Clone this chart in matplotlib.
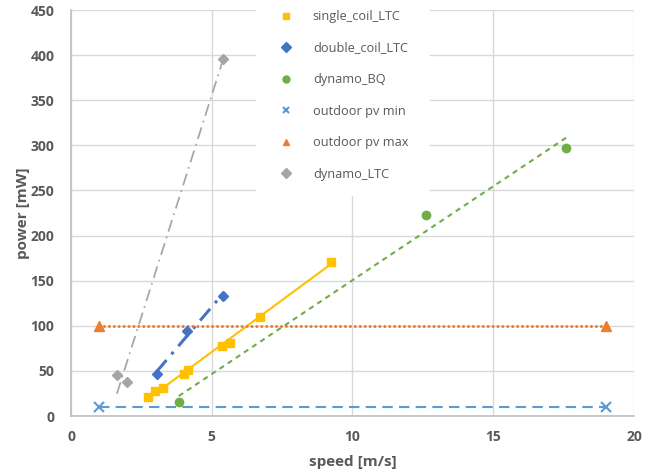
import numpy as np
import matplotlib
matplotlib.use("Agg")
import matplotlib.pyplot as plt
from matplotlib.patches import Rectangle

# data
single_x = [2.73, 2.98, 3.26, 4.0, 4.15, 5.35, 5.64, 6.7, 9.22]
single_y = [21, 27.6, 31, 46, 51, 78, 81, 110, 171]
double_x = [3.04, 4.11, 5.4]
double_y = [46, 94, 133]
bq_x = [3.83, 12.6, 17.6]
bq_y = [15.5, 223, 297]
pvmin_x = [1, 19]
pvmin_y = [10, 10]
pvmax_x = [1, 19]
pvmax_y = [100, 100]
ltc_x = [1.63, 1.99, 5.39]
ltc_y = [45, 37.5, 396]

labels = ["single_coil_LTC", "double_coil_LTC", "dynamo_BQ",
          "outdoor pv min", "outdoor pv max", "dynamo_LTC"]
xticks = [0, 5, 10, 15, 20]
yticks = [0, 50, 100, 150, 200, 250, 300, 350, 400, 450]

C_Y = "#FFC000"; C_B = "#4472C4"; C_G = "#70AD47"
C_LB = "#5B9BD5"; C_O = "#ED7D31"; C_GR = "#A5A5A5"
TXT = "#595959"; GRID = "#D9D9D9"

plt.rcParams['font.family'] = ['Open Sans', 'DejaVu Sans']

W, H = 662, 476
fig = plt.figure(figsize=(6.62, 4.76), dpi=100)
ax = fig.add_axes([71/W, 1-416/H, (634-71)/W, (416-10)/H])

def trend(x, y):
    x = np.asarray(x, float); y = np.asarray(y, float)
    k, b = np.polyfit(x, y, 1)
    xx = np.array([x.min(), x.max()])
    return xx, k*xx + b

# trendlines / series lines
xx, yy = trend(single_x, single_y)
ax.plot(xx, yy, color=C_Y, lw=1.5, solid_capstyle='round', zorder=2)
xx, yy = trend(double_x, double_y)
ax.plot(xx, yy, color=C_B, lw=2.2, dashes=(5, 2.5, 1, 2.5), zorder=2)
xx, yy = trend(bq_x, bq_y)
ax.plot(xx, yy, color=C_G, lw=1.5, dashes=(2.5, 2.2), zorder=2)
ax.plot(pvmin_x, pvmin_y, color=C_LB, lw=1.5, dashes=(5, 3), zorder=2)
ax.plot(pvmax_x, pvmax_y, color=C_O, lw=2.2, dashes=(0.01, 1.6),
        dash_capstyle='round', zorder=2)
xx, yy = trend(ltc_x, ltc_y)
ax.plot(xx, yy, color=C_GR, lw=1.25, dashes=(7, 3, 1, 3), zorder=2)

# markers
ax.plot(single_x, single_y, ls='none', marker='s', ms=6, color=C_Y, label=labels[0], zorder=3)
ax.plot(double_x, double_y, ls='none', marker='D', ms=4.8, color=C_B, label=labels[1], zorder=3)
ax.plot(bq_x, bq_y, ls='none', marker='o', ms=6, color=C_G, label=labels[2], zorder=3)
ax.plot(pvmin_x, pvmin_y, ls='none', marker='x', ms=6.5, mew=1.5, color=C_LB, label=labels[3], zorder=3)
ax.plot(pvmax_x, pvmax_y, ls='none', marker='^', ms=7.5, color=C_O, label=labels[4], zorder=3)
ax.plot(ltc_x, ltc_y, ls='none', marker='D', ms=5.2, color=C_GR, label=labels[5], zorder=3)

ax.set_xlim(0, 20)
ax.set_ylim(0, 450)
ax.set_xticks(xticks)
ax.set_yticks(yticks)
ax.grid(True, color=GRID, lw=1)
ax.set_axisbelow(True)
for s in ['top', 'right']:
    ax.spines[s].set_visible(False)
for s in ['left', 'bottom']:
    ax.spines[s].set_color('#BFBFBF')
    ax.spines[s].set_linewidth(1.2)
ax.tick_params(length=0, labelsize=10, labelcolor=TXT)
ax.tick_params(axis='y', pad=12)
ax.tick_params(axis='x', pad=10)
for t in ax.get_xticklabels() + ax.get_yticklabels():
    t.set_fontweight('bold')

ax.set_xlabel("speed [m/s]", fontsize=11, fontweight='bold', color=TXT, labelpad=8)
ax.set_ylabel("power [mW]", fontsize=11, fontweight='bold', color=TXT, labelpad=0)

# white legend background spanning px x 256..430, y 0..196
bg = Rectangle((256/W, 1-196/H), (430-256)/W, 196/H, transform=fig.transFigure,
               facecolor='white', edgecolor='none', zorder=4, clip_on=False)
ax.add_patch(bg)

x0 = (256 - 71) / 563
w = (430 - 256) / 563
y_top = (416 - 3) / 406
leg = ax.legend(loc='upper left', bbox_to_anchor=(x0, y_top - 1.0, w, 1.0), mode='expand',
                frameon=False, fontsize=9.2, labelspacing=1.45, handletextpad=0.3,
                handlelength=3.6, borderpad=0.55, borderaxespad=0)
leg.set_zorder(5)
for t in leg.get_texts():
    t.set_color(TXT)
for h in leg.legend_handles:
    h.set_markersize(5)

fig.savefig("out.png", dpi=100)
